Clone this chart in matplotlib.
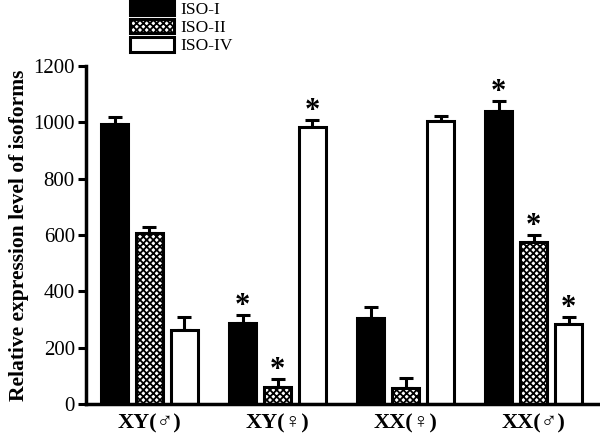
import numpy as np
import matplotlib
matplotlib.use("Agg")
import matplotlib.pyplot as plt

plt.rcParams["font.family"] = ["Liberation Serif", "DejaVu Sans"]
plt.rcParams["hatch.linewidth"] = 1.3

groups = ["XY(♂)", "XY(♀)", "XX(♀)", "XX(♂)"]
series = ["ISO-I", "ISO-II", "ISO-IV"]

iso_i = [995, 287, 305, 1040]
iso_ii = [608, 60, 58, 575]
iso_iv = [263, 983, 1003, 284]

err_i = [22, 28, 39, 35]
err_ii = [20, 28, 33, 25]
err_iv = [46, 25, 20, 25]

star_i = [False, True, False, True]
star_ii = [False, True, False, True]
star_iv = [False, True, False, True]

values = [iso_i, iso_ii, iso_iv]
errors = [err_i, err_ii, err_iv]
stars = [star_i, star_ii, star_iv]
faces = ["black", "white", "white"]
hatches = [None, "xxxxx", None]

fig = plt.figure(figsize=(6, 4.46), dpi=100)
ax = fig.add_axes([0.1433, 0.0942, 0.857, 0.758])

x = np.arange(len(groups))
offset = 0.273
width = 0.21

for i, name in enumerate(series):
    pos = x + (i - 1) * offset
    ax.bar(pos, values[i], width, color=faces[i], edgecolor="black",
           linewidth=2.2, hatch=hatches[i], label=name, zorder=2)
    ax.errorbar(pos, values[i], yerr=[np.zeros(len(groups)), errors[i]],
                fmt="none", ecolor="black", elinewidth=2.2, capsize=5,
                capthick=2.2, zorder=1)
    for p, v, e, s in zip(pos, values[i], errors[i], stars[i]):
        if s:
            ax.text(p, v + e + 30, "*", ha="center", va="center",
                    fontsize=22, fontweight="bold")

ax.set_ylim(0, 1200)
ax.set_xlim(-0.496, 3.52)
ax.set_yticks(range(0, 1201, 200))
ax.set_xticks(x)
ax.set_xticklabels(groups, fontsize=16, fontweight="bold")
ax.tick_params(axis="x", length=0, pad=7)
ax.tick_params(axis="y", direction="out", length=6, width=2.2,
               labelsize=15, pad=2)
ax.set_ylabel("Relative expression level of isoforms", fontsize=15.5,
              fontweight="bold", labelpad=3)

for side in ["top", "right"]:
    ax.spines[side].set_visible(False)
for side in ["left", "bottom"]:
    ax.spines[side].set_linewidth(2.5)

fig.legend(loc="upper left", bbox_to_anchor=(0.197, 1.025), frameon=False,
           fontsize=12.5, handlelength=2.5, handleheight=0.9,
           labelspacing=0.05, handletextpad=0.4, borderpad=0.2)

fig.savefig("out.png", dpi=100)
